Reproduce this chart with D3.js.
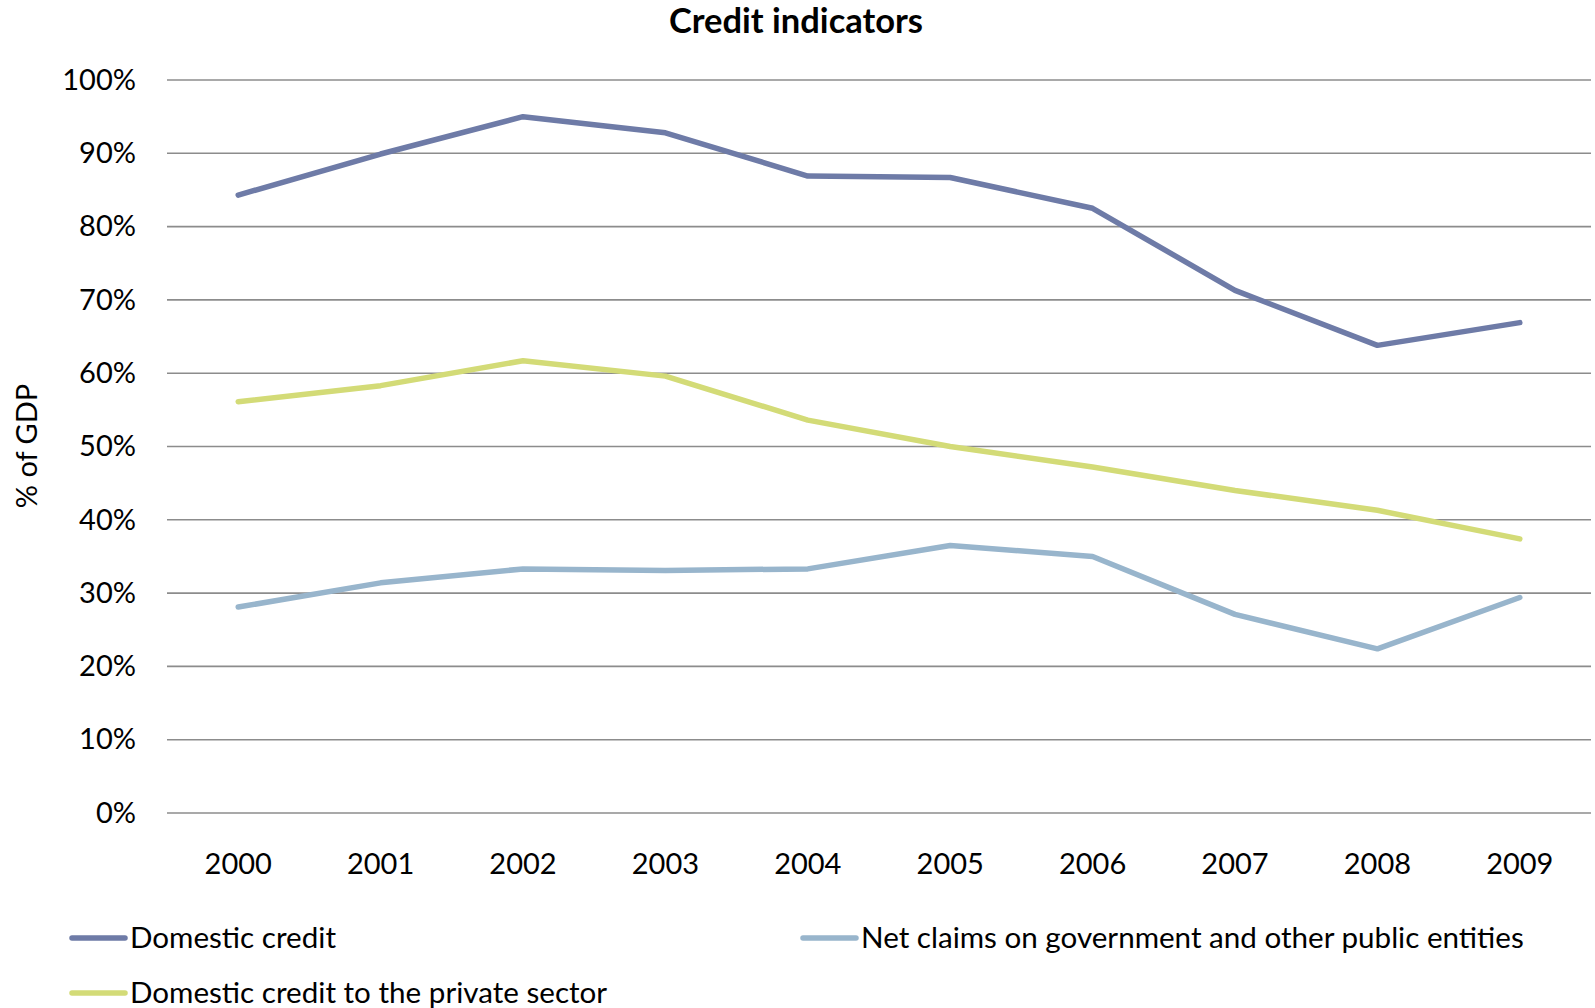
<!DOCTYPE html>
<html>
<head>
<meta charset="utf-8">
<script src="https://cdn.jsdelivr.net/npm/d3@7"></script>
<style>
  html, body { margin: 0; padding: 0; background: #ffffff; }
  svg { display: block; font-family: Lato, "Open Sans", sans-serif; }
</style>
</head>
<body>
<svg id="chart" width="1595" height="1008"></svg>
<script>
// Credit indicators, % of GDP
const years = ["2000", "2001", "2002", "2003", "2004", "2005", "2006", "2007", "2008", "2009"];
const domesticCredit = [84.3, 89.9, 95.0, 92.8, 86.9, 86.7, 82.5, 71.3, 63.8, 66.9];
const privateSectorCredit = [56.1, 58.3, 61.7, 59.6, 53.6, 50.0, 47.2, 44.0, 41.3, 37.4];
const netClaimsGovernment = [28.1, 31.4, 33.3, 33.1, 33.3, 36.5, 35.0, 27.1, 22.4, 29.4];
const yTicks = [0, 10, 20, 30, 40, 50, 60, 70, 80, 90, 100];
const seriesNames = [
  "Domestic credit",
  "Net claims on government and other public entities",
  "Domestic credit to the private sector"
];
const seriesColors = ["#6e7ba7", "#98b5cc", "#d3db77"];

const series = [
  { name: seriesNames[0], values: domesticCredit, color: seriesColors[0] },
  { name: seriesNames[1], values: netClaimsGovernment, color: seriesColors[1] },
  { name: seriesNames[2], values: privateSectorCredit, color: seriesColors[2] }
];

const svg = d3.select("#chart");
const plot = { left: 167, right: 1591, top: 80, bottom: 813 };

const x = d3.scaleBand().domain(years).range([plot.left, plot.right]);
const y = d3.scaleLinear().domain([0, 100]).range([plot.bottom, plot.top]);

// Title
svg.append("text")
  .attr("x", 796).attr("y", 33)
  .attr("text-anchor", "middle")
  .attr("font-size", 34.5).attr("font-weight", "bold")
  .attr("fill", "#000")
  .text("Credit indicators");

// Horizontal gridlines
svg.append("g")
  .selectAll("line")
  .data(yTicks)
  .join("line")
  .attr("x1", plot.left).attr("x2", plot.right)
  .attr("y1", d => y(d)).attr("y2", d => y(d))
  .attr("stroke", "#8c8c8c").attr("stroke-width", 1.6);

// Y axis labels
const yAxis = d3.axisLeft(y).tickValues(yTicks).tickFormat(d => d + "%").tickSize(0).tickPadding(0);
const yG = svg.append("g").attr("transform", `translate(136,0)`).call(yAxis);
yG.select(".domain").remove();
yG.selectAll("text").attr("font-size", 29).attr("font-family", "Lato, 'Open Sans', sans-serif").attr("fill", "#000");

// X axis labels
const xAxis = d3.axisBottom(x).tickSize(0).tickPadding(0);
const xG = svg.append("g").attr("transform", `translate(0,${plot.bottom})`).call(xAxis);
xG.select(".domain").remove();
xG.selectAll("text")
  .attr("font-size", 29).attr("font-family", "Lato, 'Open Sans', sans-serif").attr("fill", "#000")
  .attr("dy", null).attr("y", 61);

// Y axis title
svg.append("text")
  .attr("transform", "translate(37,446) rotate(-90)")
  .attr("text-anchor", "middle")
  .attr("font-size", 29).attr("fill", "#000")
  .text("% of GDP");

// Series lines
const line = d3.line()
  .x((d, i) => x(years[i]) + x.bandwidth() / 2)
  .y(d => y(d));

svg.append("g")
  .selectAll("path")
  .data(series)
  .join("path")
  .attr("d", d => line(d.values))
  .attr("fill", "none")
  .attr("stroke", d => d.color)
  .attr("stroke-width", 5.5)
  .attr("stroke-linejoin", "round")
  .attr("stroke-linecap", "round");

// Legend
const legendPos = [
  { x: 72, y: 938 },
  { x: 803, y: 938 },
  { x: 72, y: 993 }
];
const legend = svg.append("g")
  .selectAll("g")
  .data(series)
  .join("g")
  .attr("transform", (d, i) => `translate(${legendPos[i].x},${legendPos[i].y})`);
legend.append("line")
  .attr("x1", 0).attr("x2", 53)
  .attr("stroke", d => d.color).attr("stroke-width", 5.5)
  .attr("stroke-linecap", "round");
legend.append("text")
  .attr("x", 58).attr("y", 10)
  .attr("font-size", 29.6).attr("fill", "#000")
  .text(d => d.name);
</script>
</body>
</html>
